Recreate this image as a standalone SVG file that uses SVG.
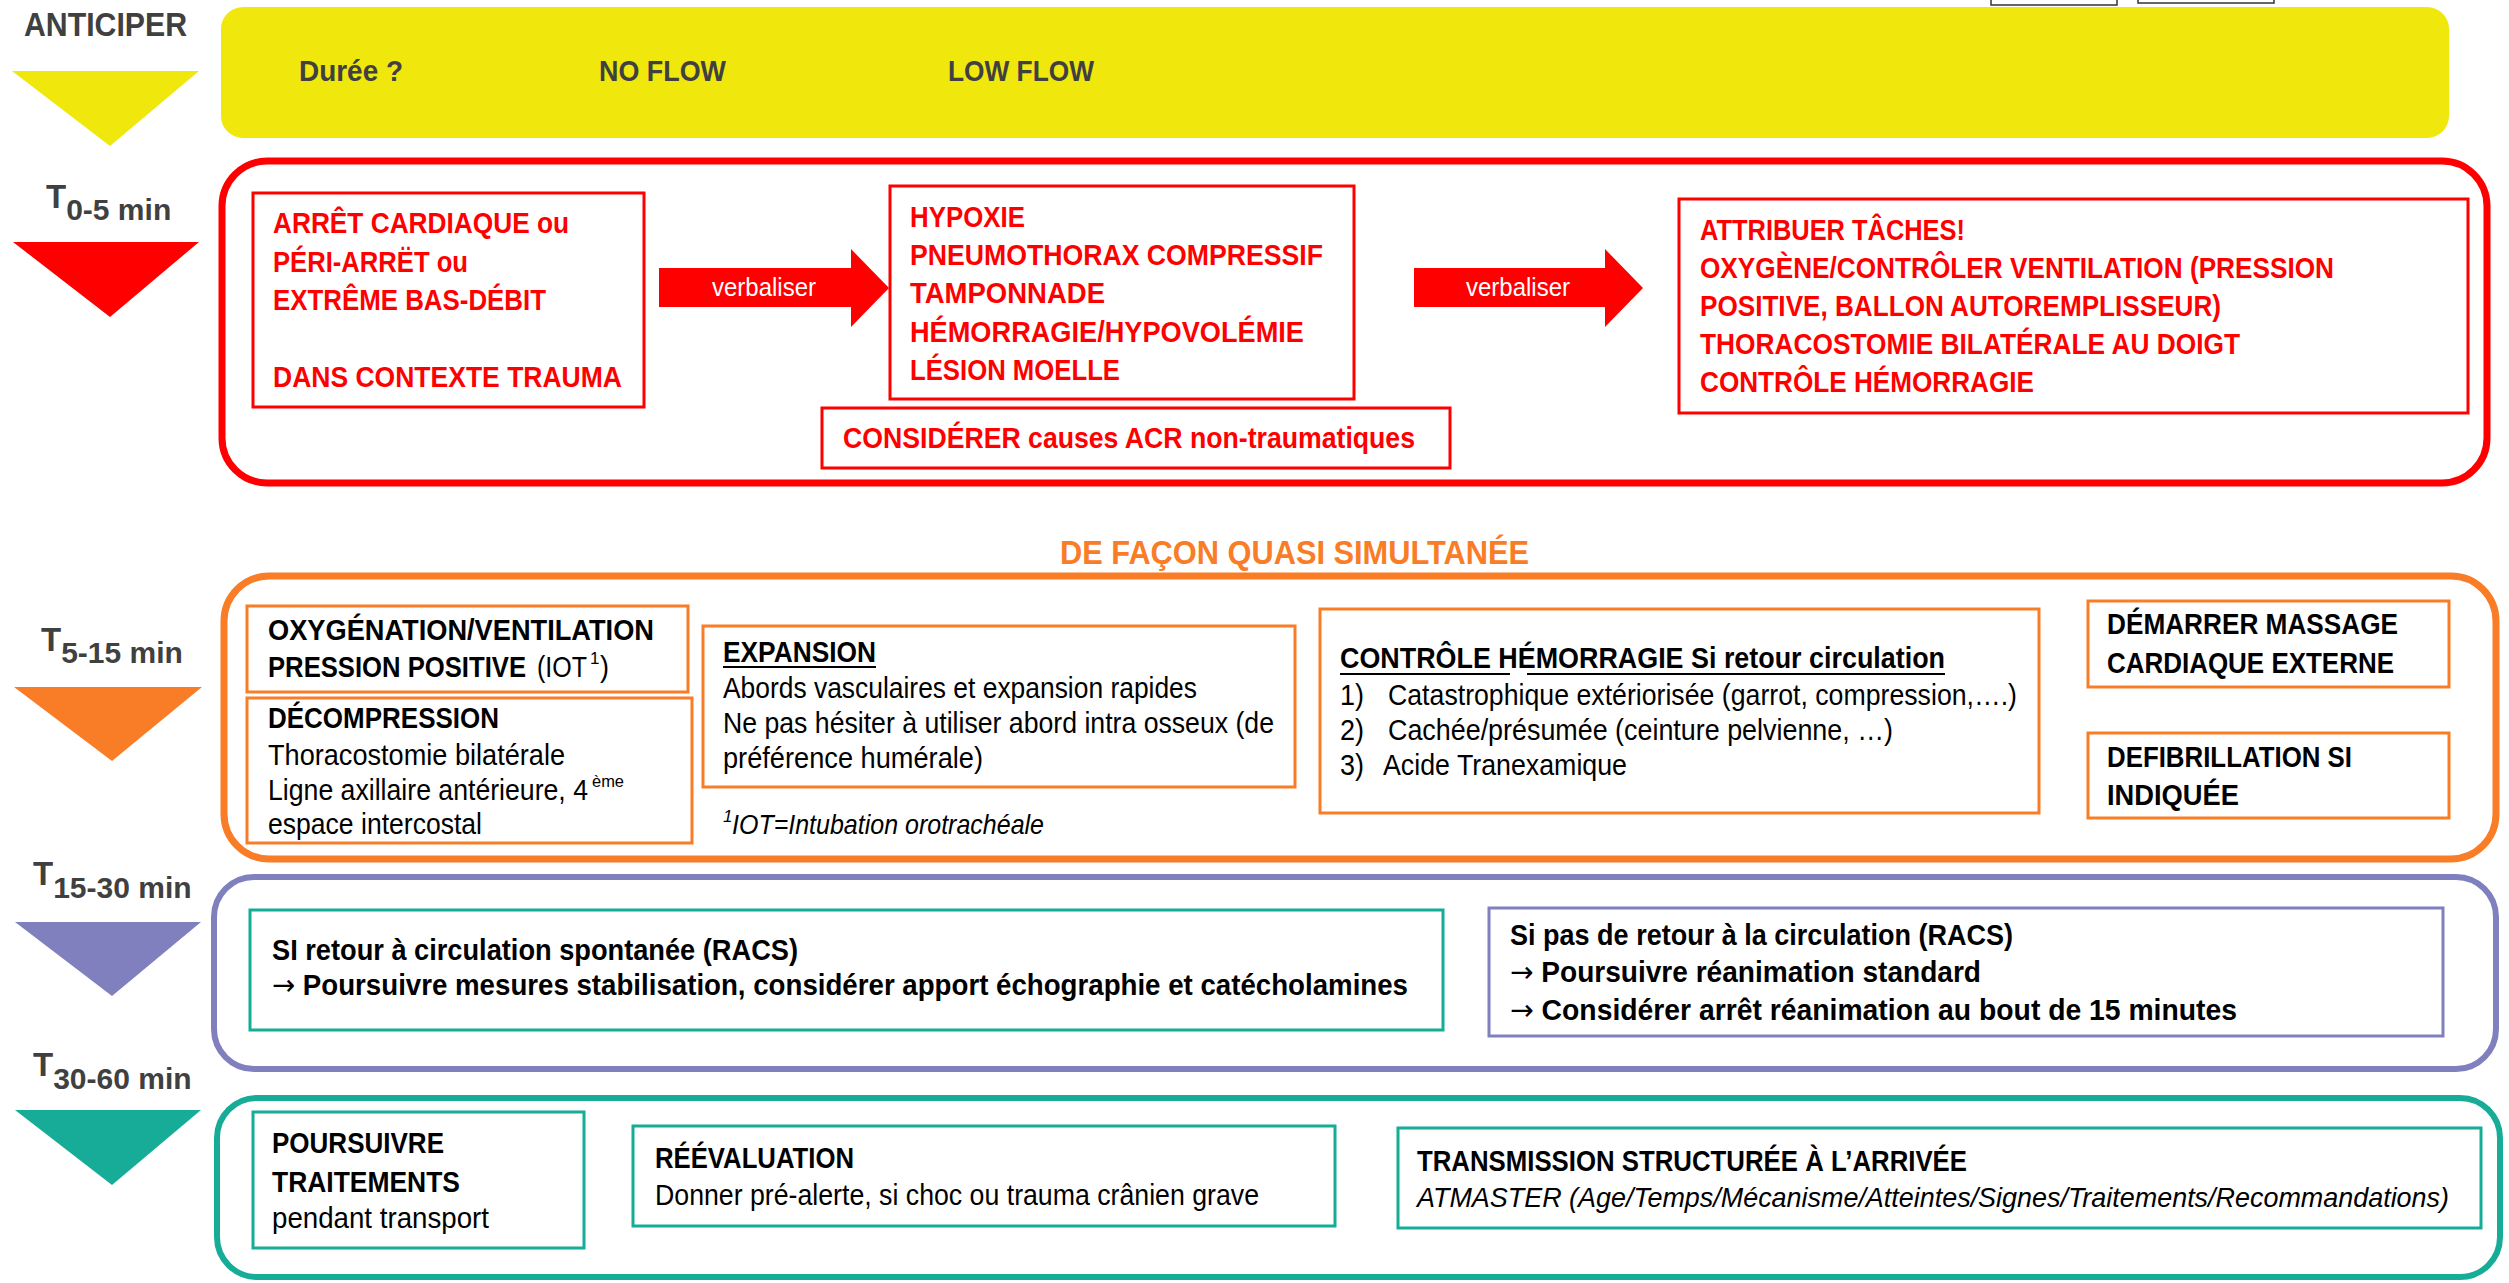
<svg xmlns="http://www.w3.org/2000/svg" width="2509" height="1283" viewBox="0 0 2509 1283">
<style>
text{font-family:"Liberation Sans",Arial,sans-serif;}
.lab{font-weight:bold;fill:#404040;}
.rb{font-weight:bold;fill:#FF0000;font-size:29px;}
.kb{font-weight:bold;fill:#000;font-size:29px;}
.kr{fill:#000;font-size:29px;}
.ki{fill:#000;font-size:28px;font-style:italic;}
.sup{fill:#000;font-size:17px;}
.yl{font-weight:bold;fill:#404040;font-size:30px;}
.vb{fill:#fff;font-size:25px;}
.ar{font-family:"DejaVu Sans",sans-serif;font-weight:normal;}
.ibr{fill:#fff;stroke:#FF0000;stroke-width:3;}
.ibo{fill:#fff;stroke:#F97C26;stroke-width:3;}
.ibt{fill:#fff;stroke:#17AC97;stroke-width:3;}
.ibp{fill:#fff;stroke:#7F80BD;stroke-width:3;}
.ul{stroke:#000;stroke-width:2;}
</style>

<!-- top-right cut boxes -->
<rect x="1991" y="-4" width="126" height="9" fill="#fff" stroke="#333" stroke-width="1.5"/>
<rect x="2138" y="-4" width="136" height="7" fill="#fff" stroke="#333" stroke-width="1.5"/>

<!-- phase labels and triangles -->
<g id="phase-anticiper">
<text class="lab" x="24" y="36" font-size="33" textLength="163" lengthAdjust="spacingAndGlyphs">ANTICIPER</text>
<polygon points="12,71 199,71 110,146" fill="#F0E70D"/>
</g>
<g id="phase-t0-5">
<text class="lab" x="46" y="208" font-size="33">T<tspan dy="12" font-size="30">0-5 min</tspan></text>
<polygon points="13,242 199,242 110,317" fill="#FF0000"/>
</g>
<g id="phase-t5-15">
<text class="lab" x="41" y="651" font-size="33">T<tspan dy="12" font-size="30">5-15 min</tspan></text>
<polygon points="14,687 202,687 112,761" fill="#F97C26"/>
</g>
<g id="phase-t15-30">
<text class="lab" x="33" y="885" font-size="33">T<tspan dy="13" font-size="30">15-30 min</tspan></text>
<polygon points="15,922 201,922 112,996" fill="#7F80BD"/>
</g>
<g id="phase-t30-60">
<text class="lab" x="33" y="1076" font-size="33">T<tspan dy="13" font-size="30">30-60 min</tspan></text>
<polygon points="15,1110 201,1110 112,1185" fill="#17AC97"/>
</g>

<!-- ANTICIPER band -->
<g id="anticiper">
<rect x="221" y="7" width="2228" height="131" rx="22" fill="#F0E70D"/>
<text class="yl" x="299" y="81" textLength="104" lengthAdjust="spacingAndGlyphs">Durée ?</text>
<text class="yl" x="599" y="81" textLength="127" lengthAdjust="spacingAndGlyphs">NO FLOW</text>
<text class="yl" x="948" y="81" textLength="146" lengthAdjust="spacingAndGlyphs">LOW FLOW</text>
</g>

<!-- T0-5 section -->
<g id="section-t0-5">
<rect x="222" y="161" width="2265" height="322" rx="45" fill="none" stroke="#FF0000" stroke-width="7"/>
</g>
<g id="node-arret">
<rect class="ibr" x="253" y="193" width="391" height="214"/>
<text class="rb" x="273" y="233" textLength="296" lengthAdjust="spacingAndGlyphs">ARRÊT CARDIAQUE ou</text>
<text class="rb" x="273" y="272" textLength="195" lengthAdjust="spacingAndGlyphs">PÉRI-ARRËT ou</text>
<text class="rb" x="273" y="310" textLength="273" lengthAdjust="spacingAndGlyphs">EXTRÊME BAS-DÉBIT</text>
<text class="rb" x="273" y="387" textLength="349" lengthAdjust="spacingAndGlyphs">DANS CONTEXTE TRAUMA</text>
</g>
<g id="node-causes">
<rect class="ibr" x="890" y="186" width="464" height="213"/>
<text class="rb" x="910" y="227" textLength="115" lengthAdjust="spacingAndGlyphs">HYPOXIE</text>
<text class="rb" x="910" y="265" textLength="413" lengthAdjust="spacingAndGlyphs">PNEUMOTHORAX COMPRESSIF</text>
<text class="rb" x="910" y="303" textLength="195" lengthAdjust="spacingAndGlyphs">TAMPONNADE</text>
<text class="rb" x="910" y="342" textLength="394" lengthAdjust="spacingAndGlyphs">HÉMORRAGIE/HYPOVOLÉMIE</text>
<text class="rb" x="910" y="380" textLength="210" lengthAdjust="spacingAndGlyphs">LÉSION MOELLE</text>
</g>
<g id="node-considerer">
<rect class="ibr" x="822" y="408" width="628" height="60"/>
<text class="rb" x="843" y="448" textLength="572" lengthAdjust="spacingAndGlyphs">CONSIDÉRER causes ACR non-traumatiques</text>
</g>
<g id="node-attribuer">
<rect class="ibr" x="1679" y="199" width="789" height="214"/>
<text class="rb" x="1700" y="240" textLength="265" lengthAdjust="spacingAndGlyphs">ATTRIBUER TÂCHES!</text>
<text class="rb" x="1700" y="278" textLength="634" lengthAdjust="spacingAndGlyphs">OXYGÈNE/CONTRÔLER VENTILATION (PRESSION</text>
<text class="rb" x="1700" y="316" textLength="521" lengthAdjust="spacingAndGlyphs">POSITIVE, BALLON AUTOREMPLISSEUR)</text>
<text class="rb" x="1700" y="354" textLength="540" lengthAdjust="spacingAndGlyphs">THORACOSTOMIE BILATÉRALE AU DOIGT</text>
<text class="rb" x="1700" y="392" textLength="334" lengthAdjust="spacingAndGlyphs">CONTRÔLE HÉMORRAGIE</text>
</g>

<!-- connectors -->
<g id="connectors">
<polygon points="659,268 851,268 851,249 889,288 851,327 851,307 659,307" fill="#FF0000"/>
<text class="vb" x="712" y="296" textLength="104" lengthAdjust="spacingAndGlyphs">verbaliser</text>
<polygon points="1414,268 1605,268 1605,249 1643,288 1605,327 1605,307 1414,307" fill="#FF0000"/>
<text class="vb" x="1466" y="296" textLength="104" lengthAdjust="spacingAndGlyphs">verbaliser</text>
</g>

<!-- T5-15 section -->
<g id="section-t5-15">
<text x="1060" y="564" font-size="33" font-weight="bold" fill="#F97C26" textLength="469" lengthAdjust="spacingAndGlyphs">DE FAÇON QUASI SIMULTANÉE</text>
<rect x="224" y="576" width="2272" height="283" rx="45" fill="none" stroke="#F97C26" stroke-width="7"/>
</g>
<g id="node-oxygenation">
<rect class="ibo" x="247" y="606" width="441" height="86"/>
<text class="kb" x="268" y="640" textLength="386" lengthAdjust="spacingAndGlyphs">OXYGÉNATION/VENTILATION</text>
<text class="kb" x="268" y="677" font-size="25.5" textLength="258" lengthAdjust="spacingAndGlyphs">PRESSION POSITIVE</text>
<text class="kr" x="537" y="677" font-size="26" textLength="50" lengthAdjust="spacingAndGlyphs">(IOT</text>
<text class="sup" x="590" y="664">1</text>
<text class="kr" x="600" y="677" font-size="26" textLength="9" lengthAdjust="spacingAndGlyphs">)</text>
</g>
<g id="node-decompression">
<rect class="ibo" x="247" y="698" width="445" height="145"/>
<text class="kb" x="268" y="728" textLength="231" lengthAdjust="spacingAndGlyphs">DÉCOMPRESSION</text>
<text class="kr" x="268" y="765" textLength="297" lengthAdjust="spacingAndGlyphs">Thoracostomie bilatérale</text>
<text class="kr" x="268" y="800" font-size="26.5" textLength="320" lengthAdjust="spacingAndGlyphs">Ligne axillaire antérieure, 4</text>
<text class="sup" x="592" y="787" textLength="32" lengthAdjust="spacingAndGlyphs">ème</text>
<text class="kr" x="268" y="834" textLength="214" lengthAdjust="spacingAndGlyphs">espace intercostal</text>
</g>
<g id="node-expansion">
<rect class="ibo" x="703" y="626" width="592" height="161"/>
<text class="kb" x="723" y="662" textLength="153" lengthAdjust="spacingAndGlyphs">EXPANSION</text>
<line class="ul" x1="723" y1="667" x2="876" y2="667"/>
<text class="kr" x="723" y="698" textLength="474" lengthAdjust="spacingAndGlyphs">Abords vasculaires et expansion rapides</text>
<text class="kr" x="723" y="733" textLength="551" lengthAdjust="spacingAndGlyphs">Ne pas hésiter à utiliser abord intra osseux (de</text>
<text class="kr" x="723" y="768" textLength="260" lengthAdjust="spacingAndGlyphs">préférence humérale)</text>
</g>
<g id="footnote">
<text class="sup" x="723" y="822" font-style="italic" font-size="15">1</text>
<text class="ki" x="732" y="834" font-size="25" textLength="312" lengthAdjust="spacingAndGlyphs">IOT=Intubation orotrachéale</text>
</g>
<g id="node-hemorragie">
<rect class="ibo" x="1320" y="609" width="719" height="204"/>
<text class="kb" x="1340" y="668" textLength="605" lengthAdjust="spacingAndGlyphs">CONTRÔLE HÉMORRAGIE Si retour circulation</text>
<line class="ul" x1="1340" y1="674" x2="1510" y2="674"/>
<line class="ul" x1="1527" y1="674" x2="1945" y2="674"/>
<text class="kr" x="1340" y="705" textLength="24" lengthAdjust="spacingAndGlyphs">1)</text>
<text class="kr" x="1388" y="705" textLength="629" lengthAdjust="spacingAndGlyphs">Catastrophique extériorisée (garrot, compression,….)</text>
<text class="kr" x="1340" y="740" textLength="24" lengthAdjust="spacingAndGlyphs">2)</text>
<text class="kr" x="1388" y="740" textLength="505" lengthAdjust="spacingAndGlyphs">Cachée/présumée  (ceinture pelvienne, …)</text>
<text class="kr" x="1340" y="775" textLength="24" lengthAdjust="spacingAndGlyphs">3)</text>
<text class="kr" x="1383" y="775" textLength="244" lengthAdjust="spacingAndGlyphs">Acide Tranexamique</text>
</g>
<g id="node-massage">
<rect class="ibo" x="2088" y="601" width="361" height="86"/>
<text class="kb" x="2107" y="634" textLength="291" lengthAdjust="spacingAndGlyphs">DÉMARRER MASSAGE</text>
<text class="kb" x="2107" y="673" textLength="287" lengthAdjust="spacingAndGlyphs">CARDIAQUE EXTERNE</text>
</g>
<g id="node-defibrillation">
<rect class="ibo" x="2088" y="733" width="361" height="85"/>
<text class="kb" x="2107" y="767" textLength="245" lengthAdjust="spacingAndGlyphs">DEFIBRILLATION SI</text>
<text class="kb" x="2107" y="805" textLength="132" lengthAdjust="spacingAndGlyphs">INDIQUÉE</text>
</g>

<!-- T15-30 section -->
<g id="section-t15-30">
<rect x="214" y="877" width="2282" height="192" rx="40" fill="none" stroke="#7F80BD" stroke-width="6"/>
</g>
<g id="node-racs-oui">
<rect class="ibt" x="250" y="910" width="1193" height="120"/>
<text class="kb" x="272" y="960" textLength="526" lengthAdjust="spacingAndGlyphs">SI retour à circulation spontanée (RACS)</text>
<text class="kb" x="272" y="995" textLength="1136" lengthAdjust="spacingAndGlyphs"><tspan class="ar">→</tspan> Poursuivre mesures stabilisation, considérer apport échographie et catécholamines</text>
</g>
<g id="node-racs-non">
<rect class="ibp" x="1489" y="908" width="954" height="128"/>
<text class="kb" x="1510" y="945" textLength="503" lengthAdjust="spacingAndGlyphs">Si pas de retour à la circulation (RACS)</text>
<text class="kb" x="1510" y="982" textLength="471" lengthAdjust="spacingAndGlyphs"><tspan class="ar">→</tspan> Poursuivre réanimation standard</text>
<text class="kb" x="1510" y="1020" textLength="727" lengthAdjust="spacingAndGlyphs"><tspan class="ar">→</tspan> Considérer arrêt réanimation au bout de 15 minutes</text>
</g>

<!-- T30-60 section -->
<g id="section-t30-60">
<rect x="217" y="1098" width="2283" height="179" rx="40" fill="none" stroke="#17AC97" stroke-width="6"/>
</g>
<g id="node-poursuivre">
<rect class="ibt" x="253" y="1112" width="331" height="136"/>
<text class="kb" x="272" y="1153" textLength="172" lengthAdjust="spacingAndGlyphs">POURSUIVRE</text>
<text class="kb" x="272" y="1192" textLength="188" lengthAdjust="spacingAndGlyphs">TRAITEMENTS</text>
<text class="kr" x="272" y="1228" textLength="217" lengthAdjust="spacingAndGlyphs">pendant transport</text>
</g>
<g id="node-reevaluation">
<rect class="ibt" x="633" y="1126" width="702" height="100"/>
<text class="kb" x="655" y="1168" textLength="199" lengthAdjust="spacingAndGlyphs">RÉÉVALUATION</text>
<text class="kr" x="655" y="1205" textLength="604" lengthAdjust="spacingAndGlyphs">Donner pré-alerte, si choc ou trauma crânien grave</text>
</g>
<g id="node-transmission">
<rect class="ibt" x="1398" y="1128" width="1083" height="100"/>
<text class="kb" x="1417" y="1171" textLength="550" lengthAdjust="spacingAndGlyphs">TRANSMISSION STRUCTURÉE À L’ARRIVÉE</text>
<text class="ki" x="1417" y="1207" textLength="1032" lengthAdjust="spacingAndGlyphs">ATMASTER (Age/Temps/Mécanisme/Atteintes/Signes/Traitements/Recommandations)</text>
</g>
</svg>
